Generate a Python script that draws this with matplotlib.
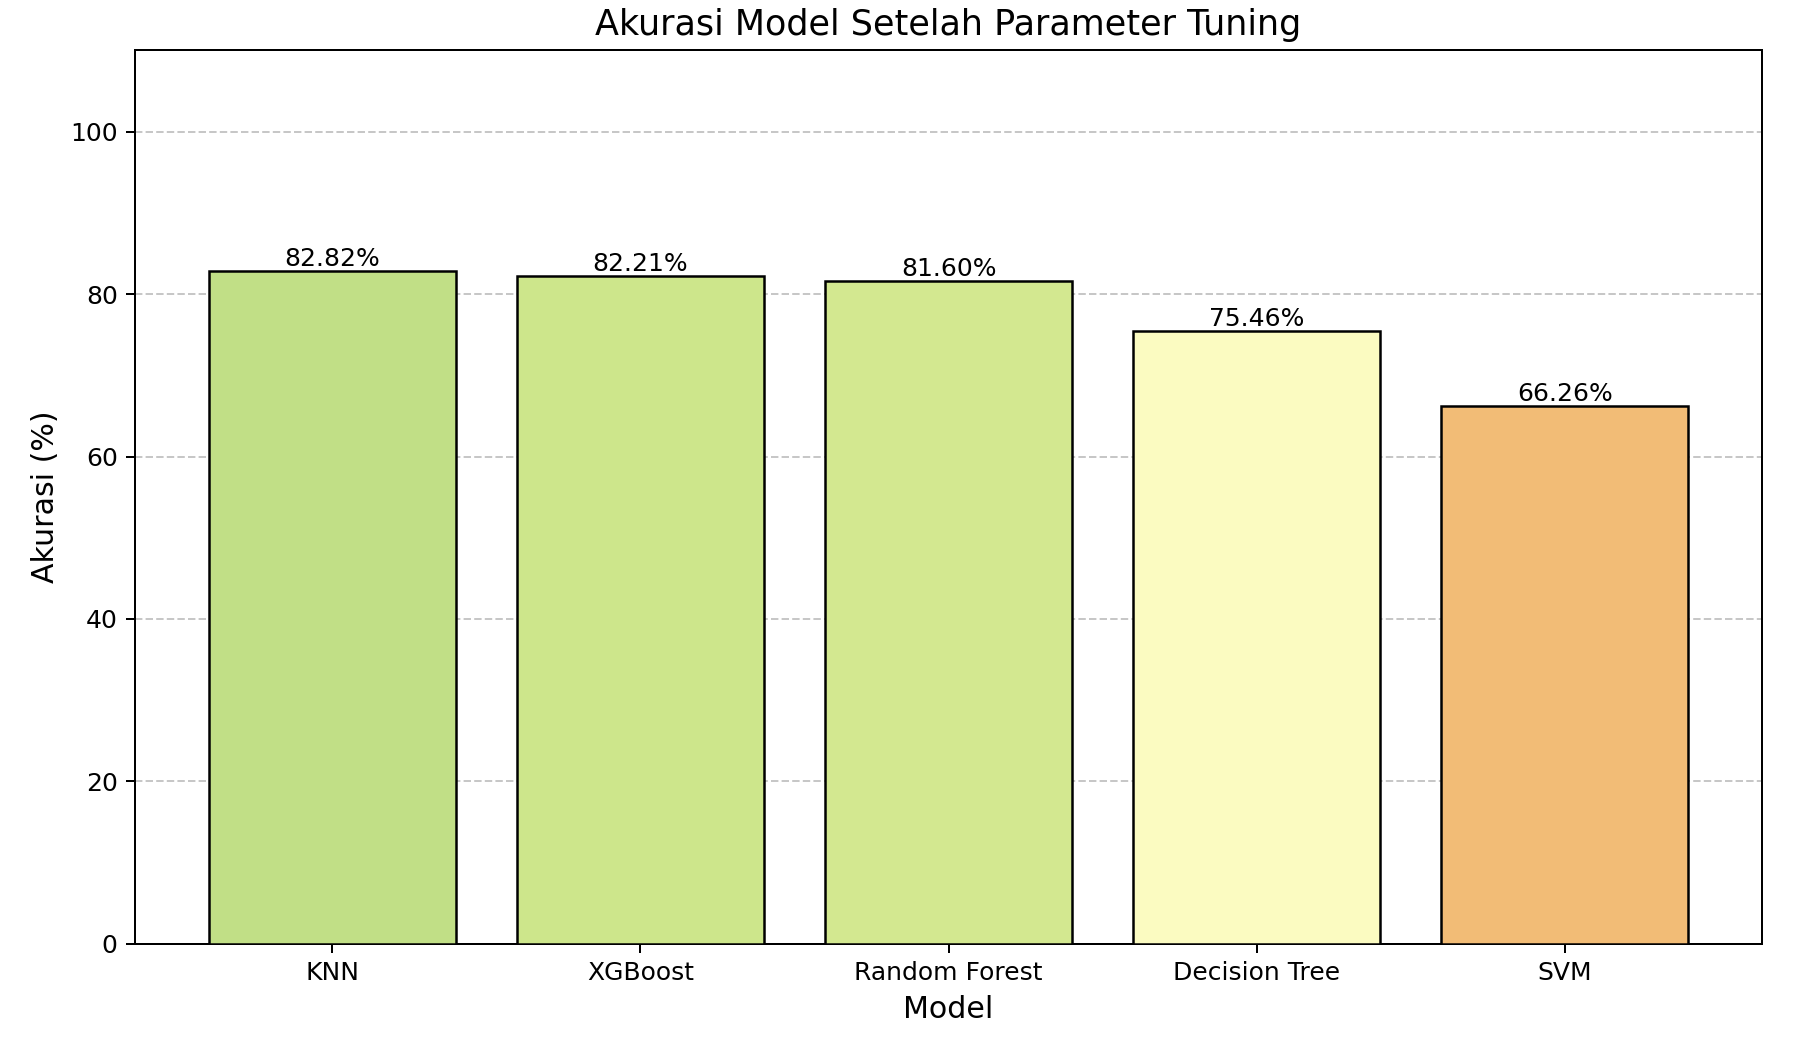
import matplotlib
matplotlib.use("Agg")
import matplotlib.pyplot as plt

models = ["KNN", "XGBoost", "Random Forest", "Decision Tree", "SVM"]
accuracy = [82.82, 82.21, 81.60, 75.46, 66.26]
colors = ["#c1df86", "#cde68b", "#d3e890", "#fbfbc1", "#f2bc76"]

DPI = 180
fig = plt.figure(figsize=(1796/DPI, 1040/DPI), dpi=DPI)
ax = fig.add_axes([0.0753, 0.0925, 0.9057, 0.859])
bars = ax.bar(models, accuracy, color=colors, edgecolor="black", linewidth=1.0, zorder=3)
for b, v in zip(bars, accuracy):
    ax.text(b.get_x() + b.get_width()/2, v, f"{v:.2f}%", ha="center", va="bottom", fontsize=10)
ax.set_ylim(0, 110)
ax.set_yticks([0, 20, 40, 60, 80, 100])
ax.grid(axis="y", linestyle="--", alpha=0.7, zorder=0)
ax.set_title("Akurasi Model Setelah Parameter Tuning", fontsize=14)
ax.set_xlabel("Model", fontsize=12)
ax.set_ylabel("Akurasi (%)", fontsize=12)
ax.tick_params(labelsize=10)
fig.savefig("out.png", dpi=DPI)
